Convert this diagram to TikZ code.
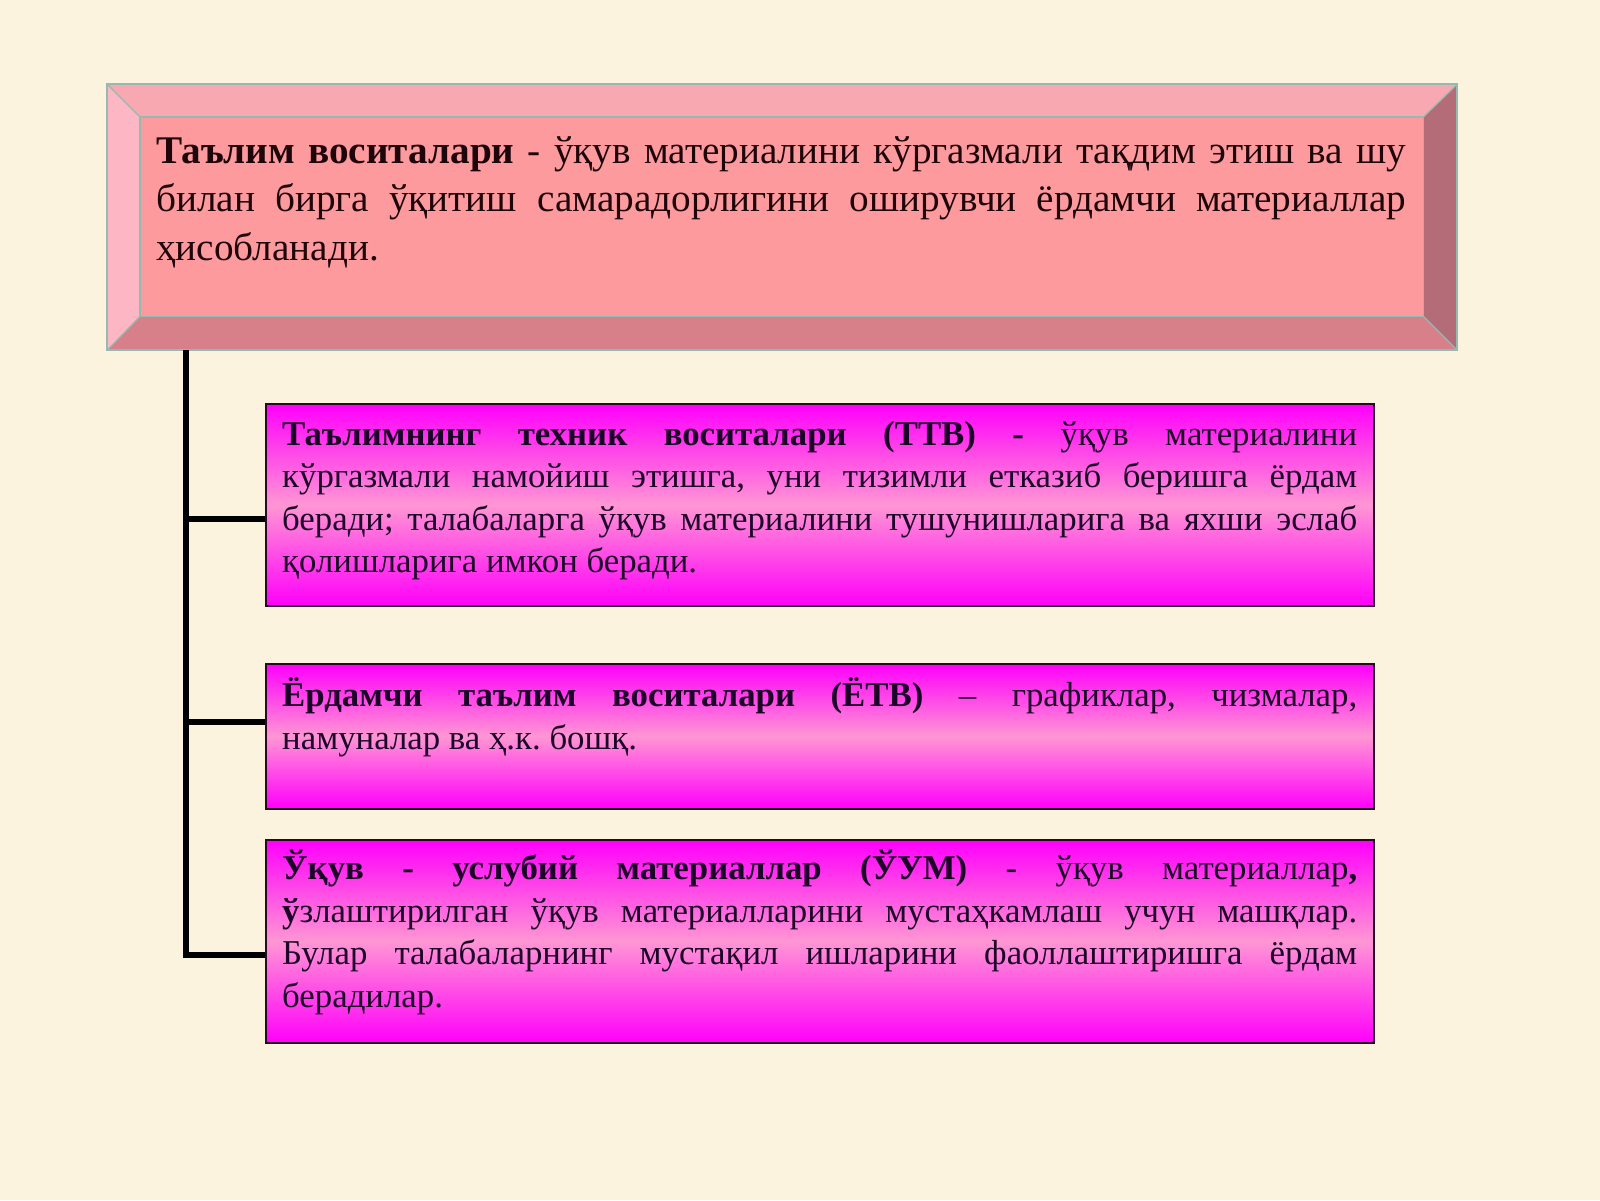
\documentclass[tikz,border=0pt]{standalone}
\usepackage{fontspec}
\setmainfont{Liberation Serif}
\usetikzlibrary{calc}
\definecolor{bg}{RGB}{252,243,222}
\definecolor{bevtop}{RGB}{247,168,176}
\definecolor{bevleft}{RGB}{253,182,196}
\definecolor{bevright}{RGB}{180,108,120}
\definecolor{bevbot}{RGB}{215,128,138}
\definecolor{face}{RGB}{253,154,158}
\definecolor{edge}{RGB}{150,185,178}
\definecolor{toptxt}{RGB}{30,5,10}
\definecolor{boxtxt}{RGB}{28,4,40}
\definecolor{mag}{RGB}{255,0,250}
\definecolor{magmid}{RGB}{255,150,212}
\definecolor{boxedge}{RGB}{40,10,35}
\newcommand{\nohyph}{\hyphenpenalty=10000\exhyphenpenalty=10000\frenchspacing}
\tikzset{
  subbox/.style={draw=boxedge, line width=1.5pt, top color=mag, bottom color=mag, middle color=magmid,
    minimum width=1108pt, inner sep=0pt, anchor=north west},
  toptextstyle/.style={anchor=north west, inner sep=0pt, text width=1250pt, align=justify,
    text=toptxt, font=\fontsize{39.2}{48.5}\selectfont},
  boxtextstyle/.style={anchor=north west, inner sep=0pt, text width=1075pt, align=justify,
    text=boxtxt, font=\fontsize{34.8}{42.5}\selectfont},
  conn/.style={line width=6pt, draw=black, line join=miter},
}
\begin{document}
\begin{tikzpicture}[x=1pt,y=-1pt]
\fill[bg] (0,0) rectangle (1600,1200);
\useasboundingbox (0,0) rectangle (1600,1200);
% top bevelled box
\node[minimum width=1350pt, minimum height=266pt, inner sep=0pt, anchor=north west] (topbox) at (107,84) {};
\coordinate (oTL) at (topbox.north west);
\coordinate (oTR) at (topbox.north east);
\coordinate (oBL) at (topbox.south west);
\coordinate (oBR) at (topbox.south east);
\coordinate (iTL) at ($(oTL)+(33,33)$);
\coordinate (iTR) at ($(oTR)+(-34,33)$);
\coordinate (iBL) at ($(oBL)+(33,-34)$);
\coordinate (iBR) at ($(oBR)+(-34,-34)$);
\fill[bevtop] (oTL) -- (oTR) -- (iTR) -- (iTL) -- cycle;
\fill[bevleft] (oTL) -- (iTL) -- (iBL) -- (oBL) -- cycle;
\fill[bevright] (oTR) -- (oBR) -- (iBR) -- (iTR) -- cycle;
\fill[bevbot] (oBL) -- (iBL) -- (iBR) -- (oBR) -- cycle;
\draw[edge, line width=1.2pt, fill=face] (iTL) rectangle (iBR);
\draw[edge, line width=1.2pt] (oTL) -- (iTL) (oTR) -- (iTR) (oBL) -- (iBL) (oBR) -- (iBR);
\draw[edge, line width=2pt] (oTL) rectangle (oBR);
\node[toptextstyle] (toptext) at (156,127) {\nohyph\rule{0pt}{36pt}\textbf{Таълим воситалари} - ўқув материалини кўргазмали тақдим этиш ва шу\linebreak билан бирга ўқитиш самарадорлигини оширувчи ёрдамчи материаллар\linebreak ҳисобланади.};
% sub boxes
\node[subbox, minimum height=202pt] (b1) at (265,403) {};
\node[subbox, minimum height=145pt] (b2) at (265,663) {};
\node[subbox, minimum height=203pt] (b3) at (265,839) {};
\node[boxtextstyle] (t1) at (282,414) {\nohyph\rule{0pt}{31pt}\textbf{Таълимнинг техник воситалари (ТТВ) -} ўқув материалини\linebreak кўргазмали намойиш этишга, уни тизимли етказиб беришга ёрдам\linebreak беради; талабаларга ўқув материалини тушунишларига ва яхши эслаб\linebreak қолишларига имкон беради.};
\node[boxtextstyle] (t2) at (282,675.5) {\nohyph\rule{0pt}{31pt}\textbf{Ёрдамчи таълим воситалари (ЁТВ)} – графиклар, чизмалар,\linebreak намуналар ва ҳ.к. бошқ.};
\node[boxtextstyle] (t3) at (282,848.5) {\nohyph\rule{0pt}{31pt}\textbf{Ўқув - услубий материаллар (ЎУМ)} - ўқув материаллар\textbf{,}\linebreak \textbf{ў}злаштирилган ўқув материалларини мустаҳкамлаш учун машқлар.\linebreak Булар талабаларнинг мустақил ишларини фаоллаштиришга ёрдам\linebreak берадилар.};
% connectors
\coordinate (s0) at ($(topbox.south west)+(79,0)$);
\coordinate (j1) at ($(b1.west)+(0,14)$);
\coordinate (j2) at ($(b2.west)+(0,-14)$);
\coordinate (j3) at ($(b3.west)+(0,14)$);
\draw[conn] (s0) |- (j3);
\draw[conn] (j1 -| s0) -- (j1);
\draw[conn] (j2 -| s0) -- (j2);
\end{tikzpicture}
\end{document}
